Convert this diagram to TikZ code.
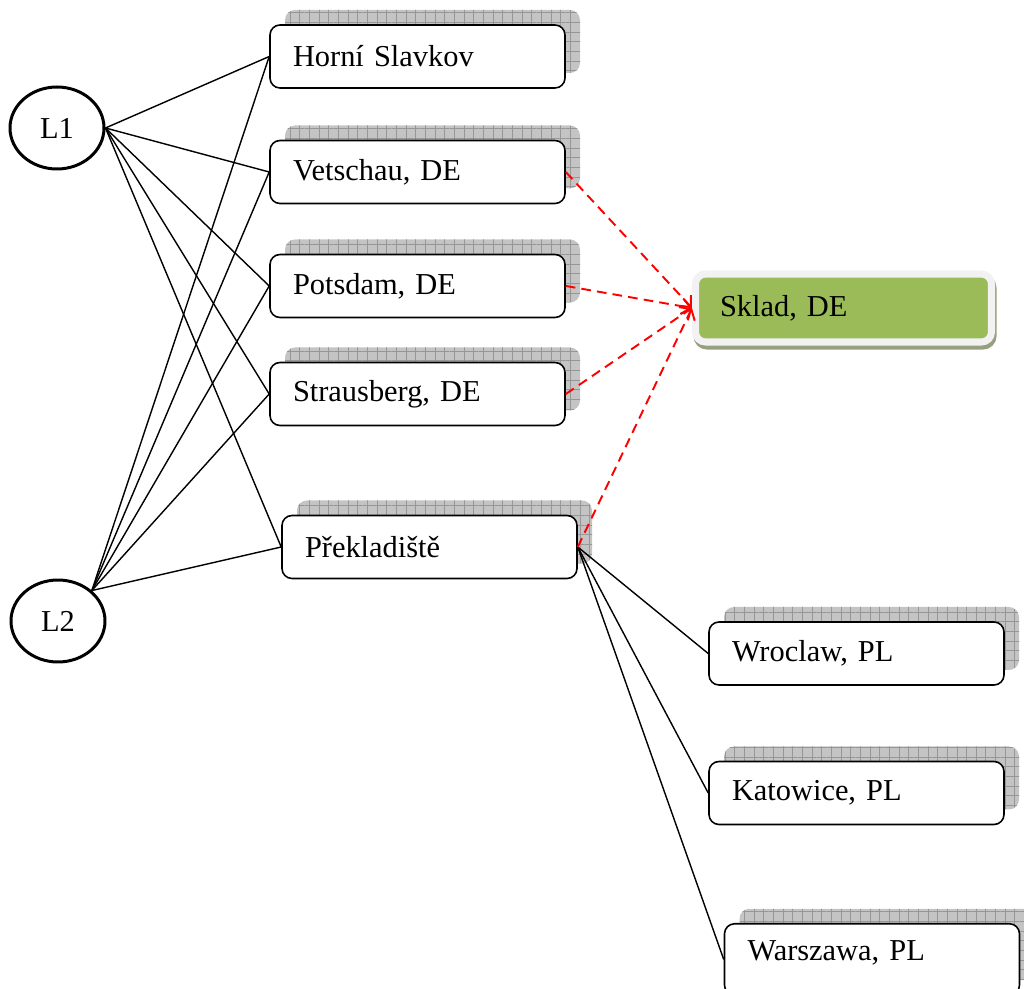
\documentclass[tikz,border=0pt]{standalone}
\usepackage{fontspec}
\setmainfont{Liberation Serif}
\usepackage{tikz}
\usetikzlibrary{shapes.geometric,shadows,patterns.meta,arrows.meta}
\definecolor{shadowgray}{RGB}{196, 196, 196}
\definecolor{gridgray}{RGB}{150, 150, 150}
\definecolor{skladgreen}{RGB}{155, 187, 89}
\definecolor{skladrim}{RGB}{242, 242, 242}
\definecolor{skladshadow}{RGB}{150, 160, 128}
\definecolor{routered}{RGB}{255, 0, 0}

\begin{document}
\begin{tikzpicture}[
    font=\fontsize{17.3}{20}\selectfont,
    citybox/.style={draw, line width=0.9pt, rounded corners=0.2cm, fill=white,
        minimum width=5.9cm, minimum height=1.26cm, text width=4.98cm,
        inner xsep=0.46cm, align=left,
        general shadow={shadow xshift=0.3cm, shadow yshift=0.3cm, fill=shadowgray},
        general shadow={shadow xshift=0.3cm, shadow yshift=0.3cm,
            pattern={Hatch[distance=5.5pt, line width=0.4pt]}, pattern color=gridgray}},
    skladbox/.style={draw=skladrim, line width=4pt, rounded corners=0.2cm, fill=skladgreen,
        minimum width=5.92cm, minimum height=1.36cm, text width=4.94cm,
        inner xsep=0.49cm, align=left,
        general shadow={shadow xshift=0.03cm, shadow yshift=-0.08cm,
            fill=skladshadow, draw=skladshadow, line width=4pt}},
    lineend/.style={draw, ellipse, line width=1.7pt, minimum width=1.88cm, minimum height=1.64cm},
    route/.style={line width=0.8pt},
    tostore/.style={routered, line width=1.1pt, dash pattern=on 5.5pt off 3.5pt,
        -{Straight Barb[length=5pt, width=9pt]}}
]
    % Page frame
    \useasboundingbox (0,0) rectangle (20.48,-19.78);
    \clip (0,0) rectangle (20.48,-19.78);

    % Production lines
    \node[lineend] (l1) at (1.14,-2.56) {L1};
    \node[lineend] (l2) at (1.16,-12.42) {L2};

    % Plants
    \node[citybox] (horni) at (8.35,-1.13) {Horní Slavkov};
    \node[citybox] (vetschau) at (8.35,-3.44) {Vetschau, DE};
    \node[citybox] (potsdam) at (8.35,-5.72) {Potsdam, DE};
    \node[citybox] (strausberg) at (8.35,-7.88) {Strausberg, DE};
    \node[citybox] (prekladiste) at (8.59,-10.94) {Překladiště};

    % Polish customers (the last box runs off the page)
    \node[citybox] (wroclaw) at (17.13,-13.07) {Wroclaw, PL};
    \node[citybox] (katowice) at (17.13,-15.86) {Katowice, PL};
    \node[citybox, anchor=north, text height=17.5pt, text depth=16.4pt] (warszawa) at (17.44,-18.46) {Warszawa, PL};

    % Warehouse
    \node[skladbox] (sklad) at (16.87,-6.16) {Sklad, DE};

    % Routes from L1 and L2
    \foreach \target in {horni,vetschau,potsdam,strausberg,prekladiste} {
        \draw[route] (l1.east) -- (\target.west);
        \draw[route] (l2.42) -- (\target.west);
    }

    % Routes from the transshipment point
    \foreach \target in {wroclaw,katowice,warszawa}
        \draw[route] (prekladiste.east) -- (\target.west);

    % Deliveries to the warehouse
    \foreach \source in {vetschau,potsdam,strausberg,prekladiste}
        \draw[tostore] (\source.east) -- (sklad.west);
\end{tikzpicture}
\end{document}
